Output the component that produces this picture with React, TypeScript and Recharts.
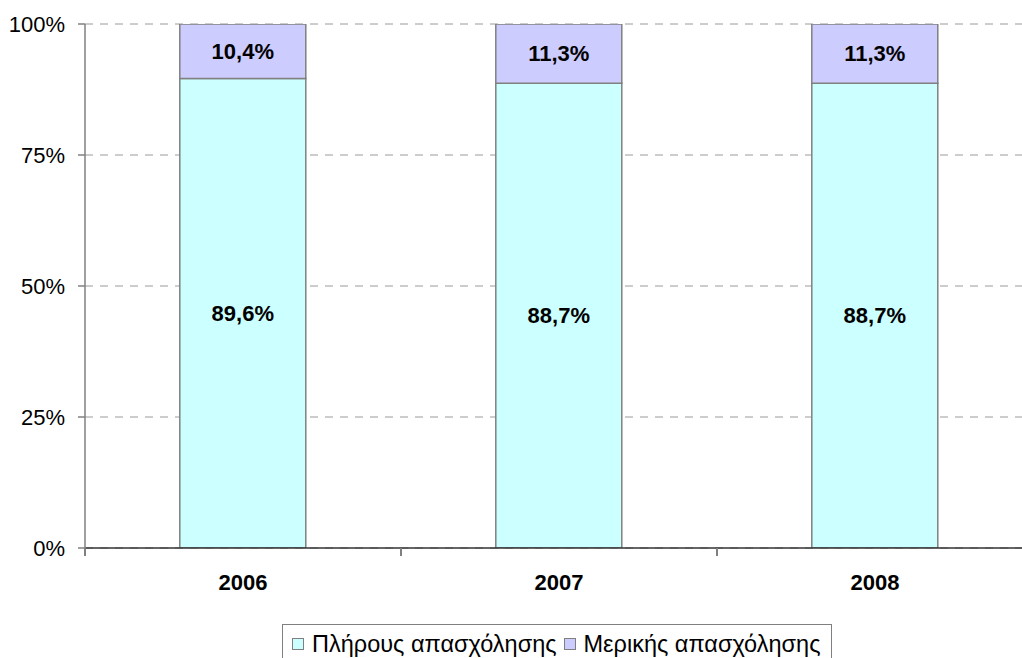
import React from 'react';
import { BarChart, Bar, XAxis, YAxis, CartesianGrid, Legend, LabelList } from 'recharts';

const years = ['2006', '2007', '2008'];
const fullTime = [89.6, 88.7, 88.7];
const partTime = [10.4, 11.3, 11.3];
const yTicks = [0, 25, 50, 75, 100];
const seriesNames = ['Πλήρους απασχόλησης', 'Μερικής απασχόλησης'];

const data = years.map((y, i) => ({ year: y, full: fullTime[i], part: partTime[i] }));

const FONT = '"Liberation Sans", Arial, sans-serif';
const CHART_W = 1040;
const CHART_H = 664;
const MARGIN = { top: 24, right: 7, left: 0, bottom: 0 };
const Y_W = 85;
const PLOT_W = CHART_W - MARGIN.left - MARGIN.right - Y_W;
const BAND = PLOT_W / years.length;

const fmt = (v: any) => Number(v).toFixed(1).replace('.', ',') + '%';

const XTick = (props: any) => {
  const { x, y, payload, index } = props;
  return (
    <g>
      <line x1={x - BAND / 2} x2={x - BAND / 2} y1={y} y2={y + 8} stroke="#808080" strokeWidth={2} />
      {index === years.length - 1 && (
        <line x1={x + BAND / 2} x2={x + BAND / 2} y1={y} y2={y + 8} stroke="#808080" strokeWidth={2} />
      )}
      <text x={x} y={y + 42} textAnchor="middle" fontFamily={FONT} fontSize={22} fontWeight="bold" fill="#000">
        {payload.value}
      </text>
    </g>
  );
};

const LegendContent = (props: any) => {
  const items = [...(props.payload || [])].sort(
    (a: any, b: any) => seriesNames.indexOf(a.value) - seriesNames.indexOf(b.value)
  );
  return (
    <div
      style={{
        boxSizing: 'border-box',
        height: 40,
        width: 550,
        border: '1px solid #808080',
        display: 'flex',
        alignItems: 'center',
        paddingLeft: 9,
        fontFamily: FONT,
        fontSize: 23.5,
        color: '#000',
        background: '#fff',
        whiteSpace: 'nowrap',
        overflow: 'hidden',
      }}
    >
      {items.map((p: any, i: number) => (
        <span key={i} style={{ display: 'inline-flex', alignItems: 'center', marginRight: 7 }}>
          <span
            style={{
              display: 'inline-block',
              boxSizing: 'border-box',
              width: 12,
              height: 12,
              background: p.color,
              border: '1px solid #808080',
              marginRight: 8,
            }}
          />
          {p.value}
        </span>
      ))}
    </div>
  );
};

export default function App() {
  return (
    <div style={{ position: 'fixed', top: 0, left: 0, width: 1022, height: 658, overflow: 'hidden', background: '#fff' }}>
      <BarChart width={CHART_W} height={CHART_H} data={data} margin={MARGIN} barCategoryGap="30%">
        <CartesianGrid vertical={false} stroke="#9a9a9a" strokeDasharray="8 7" />
        <XAxis
          dataKey="year"
          tickLine={false}
          tickSize={0}
          tickMargin={0}
          axisLine={{ stroke: '#333', strokeWidth: 1.5 }}
          tick={<XTick />}
          height={76}
          interval={0}
        />
        <YAxis
          width={Y_W}
          domain={[0, 100]}
          ticks={yTicks}
          tickFormatter={(v: number) => v + '%'}
          axisLine={{ stroke: '#808080', strokeWidth: 1.5 }}
          tickLine={{ stroke: '#808080', strokeWidth: 1.5 }}
          tickSize={7}
          tickMargin={13}
          tick={{ fill: '#000', fontSize: 22, fontFamily: FONT }}
          allowDataOverflow
        />
        <Legend
          verticalAlign="bottom"
          content={<LegendContent />}
          wrapperStyle={{ left: 282, width: 550, height: 40 }}
        />
        <Bar dataKey="full" name={seriesNames[0]} stackId="a" fill="#CCFFFF" stroke="#808080" strokeWidth={1.5} isAnimationActive={false}>
          <LabelList dataKey="full" position="center" formatter={fmt} fill="#000" fontSize={22} fontWeight="bold" fontFamily={FONT} />
        </Bar>
        <Bar dataKey="part" name={seriesNames[1]} stackId="a" fill="#CCCCFF" stroke="#808080" strokeWidth={1.5} isAnimationActive={false}>
          <LabelList dataKey="part" position="center" formatter={fmt} fill="#000" fontSize={22} fontWeight="bold" fontFamily={FONT} />
        </Bar>
      </BarChart>
    </div>
  );
}
